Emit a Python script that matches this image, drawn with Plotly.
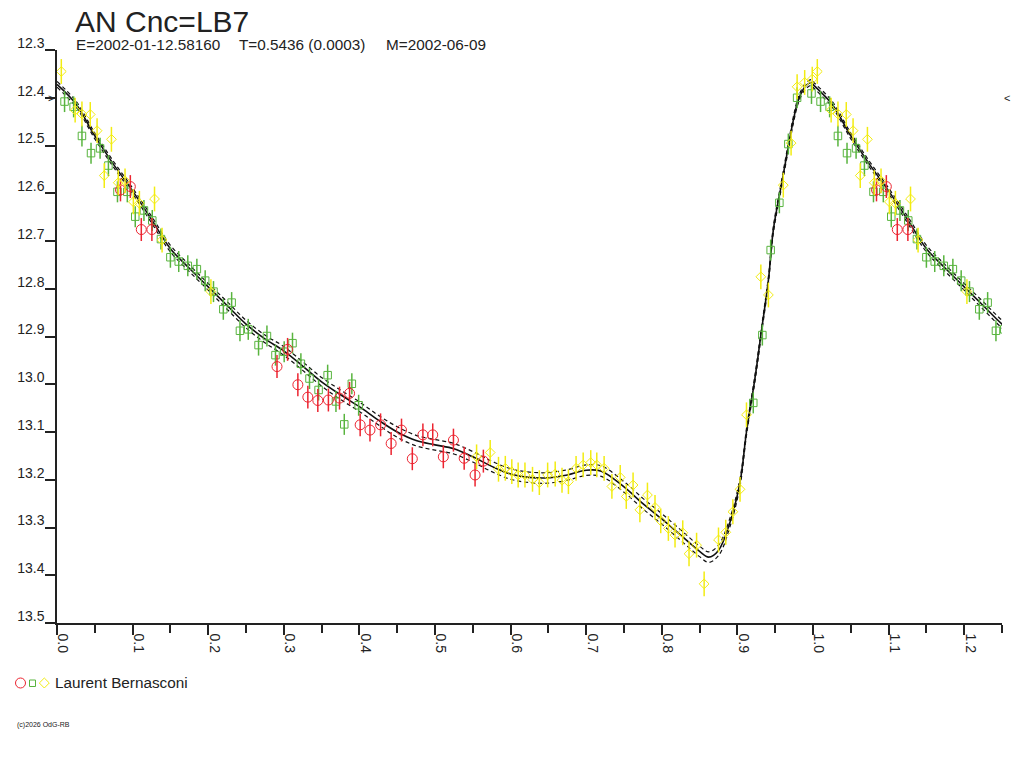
import plotly.graph_objects as go

red_phase = [0.084, 0.097, 0.1115, 0.1255, 0.291, 0.305, 0.3186, 0.3318, 0.345, 0.359,
             0.3737, 0.387, 0.401, 0.414, 0.428, 0.442, 0.4557, 0.470, 0.484, 0.497,
             0.511, 0.5244, 0.5386, 0.553, 0.564]
red_mag = [12.593, 12.586, 12.676, 12.676, 12.963, 12.927, 13.001, 13.027, 13.034, 13.033,
           13.029, 13.019, 13.085, 13.096, 13.085, 13.124, 13.096, 13.156, 13.106, 13.106,
           13.152, 13.117, 13.155, 13.190, 13.161]

green_phase = [0.010, 0.022, 0.033, 0.045, 0.057, 0.068, 0.080, 0.093, 0.1035, 0.115,
               0.126, 0.1375, 0.150, 0.161, 0.173, 0.185, 0.196, 0.207, 0.220, 0.231,
               0.242, 0.253, 0.2666, 0.2777, 0.289, 0.3005, 0.3115, 0.3226, 0.334, 0.346,
               0.358, 0.369, 0.380, 0.390, 0.399, 0.921, 0.933, 0.944, 0.9555, 0.9674,
               0.979, 0.998]
green_mag = [12.408, 12.419, 12.480, 12.516, 12.506, 12.542, 12.597, 12.597, 12.649, 12.636,
             12.657, 12.696, 12.734, 12.743, 12.752, 12.759, 12.783, 12.806, 12.843, 12.829,
             12.888, 12.885, 12.918, 12.899, 12.939, 12.932, 12.914, 12.957, 12.988, 13.012,
             12.981, 13.036, 13.084, 12.999, 13.044, 13.039, 12.897, 12.719, 12.620, 12.497,
             12.400, 12.391]

yellow_phase = [0.0057, 0.024, 0.033, 0.044, 0.053, 0.0625, 0.072, 0.081, 0.090, 0.101,
                0.109, 0.129, 0.139, 0.2036, 0.555, 0.573, 0.584, 0.593, 0.6016, 0.610,
                0.619, 0.629, 0.638, 0.649, 0.659, 0.668, 0.6765, 0.6866, 0.696, 0.706,
                0.714, 0.7237, 0.734, 0.745, 0.753, 0.762, 0.771, 0.781, 0.791, 0.7986,
                0.8087, 0.8175, 0.8277, 0.836, 0.846, 0.856, 0.875, 0.8846, 0.894, 0.9035,
                0.912, 0.931, 0.941, 0.9607, 0.971, 0.979, 0.989, 0.999]
yellow_mag = [12.345, 12.426, 12.434, 12.435, 12.469, 12.563, 12.487, 12.578, 12.574, 12.618,
              12.621, 12.612, 12.698, 12.806, 13.152, 13.143, 13.178, 13.176, 13.183, 13.190,
              13.190, 13.199, 13.206, 13.190, 13.188, 13.201, 13.204, 13.176, 13.169, 13.164,
              13.169, 13.176, 13.214, 13.195, 13.235, 13.211, 13.263, 13.232, 13.258, 13.286,
              13.302, 13.316, 13.311, 13.355, 13.337, 13.418, 13.326, 13.310, 13.267, 13.220,
              13.064, 12.775, 12.813, 12.583, 12.495, 12.377, 12.368, 12.361]

red_err, green_err, yellow_err = 0.024, 0.022, 0.026

# --- fitted light curve and its uncertainty ---
curve_phase = [0.0, 0.025, 0.05, 0.075, 0.1, 0.125, 0.15, 0.175, 0.2, 0.225, 0.25, 0.275,
               0.3, 0.325, 0.35, 0.375, 0.4, 0.425, 0.45, 0.475, 0.5, 0.525, 0.55, 0.575,
               0.6, 0.625, 0.65, 0.675, 0.7, 0.72, 0.75, 0.775, 0.8, 0.825, 0.85, 0.862,
               0.875, 0.89, 0.9035, 0.912, 0.923, 0.932, 0.941, 0.9475, 0.9586, 0.9674,
               0.974, 0.9806, 0.9894, 0.998]
curve_mag = [12.372, 12.413, 12.480, 12.540, 12.595, 12.655, 12.716, 12.757, 12.796, 12.835,
             12.874, 12.905, 12.930, 12.962, 12.995, 13.022, 13.047, 13.075, 13.100, 13.118,
             13.127, 13.135, 13.152, 13.172, 13.188, 13.195, 13.196, 13.190, 13.180, 13.182,
             13.215, 13.250, 13.282, 13.316, 13.350, 13.362, 13.348, 13.290, 13.205, 13.100,
             12.990, 12.886, 12.782, 12.677, 12.579, 12.502, 12.447, 12.405, 12.377, 12.368]
curve_sig = [0.006, 0.006, 0.006, 0.006, 0.006, 0.007, 0.007, 0.007, 0.007, 0.008, 0.008, 0.008,
             0.009, 0.009, 0.009, 0.010, 0.010, 0.010, 0.011, 0.011, 0.011, 0.011, 0.011, 0.011,
             0.011, 0.011, 0.011, 0.011, 0.011, 0.011, 0.011, 0.011, 0.011, 0.011, 0.011, 0.011,
             0.011, 0.009, 0.008, 0.007, 0.007, 0.007, 0.007, 0.007, 0.007, 0.007,
             0.007, 0.006, 0.006, 0.006]

max_mag = 12.40

x_ticks = [0.0, 0.1, 0.2, 0.3, 0.4, 0.5, 0.6, 0.7, 0.8, 0.9, 1.0, 1.1, 1.2]
y_ticks = [12.3, 12.4, 12.5, 12.6, 12.7, 12.8, 12.9, 13.0, 13.1, 13.2, 13.3, 13.4, 13.5]

title = "AN Cnc=LB7"
subtitle = ["E=2002-01-12.58160", "T=0.5436 (0.0003)", "M=2002-06-09"]
observer = "Laurent Bernasconi"

RED, GREEN, YELLOW = "#ec2430", "#58b43e", "#f2ec12"
INK = "#222222"
FONT = "Liberation Sans, Arial, sans-serif"

# the page puts the figure 8px in from the top-left corner
OFF = 8
W, H = 1016, 760
L, R, T, B = 49, 22, 42, 145


def px(x, y):
    # window pixel position -> paper coords
    return (x - OFF - L) / (W - L - R), (H - B - (y - OFF)) / (H - T - B)


def fold(ph, vals, upto=0.3):
    # repeat the first part of the cycle after phase 1
    xs = list(ph) + [p + 1 for p in ph if p <= upto]
    ys = list(vals) + [v for p, v in zip(ph, vals) if p <= upto]
    return xs, ys


fig = go.Figure()

cx, cy = fold(curve_phase, curve_mag)
_, cs = fold(curve_phase, curve_sig)
for off, dash, w in [(-1, "4px,3px", 1.2), (1, "4px,3px", 1.2), (0, "solid", 1.6)]:
    fig.add_trace(go.Scatter(
        x=cx, y=[m + off * s for m, s in zip(cy, cs)], mode="lines",
        line=dict(color="#111111", width=w, dash=dash, shape="spline", smoothing=1.0),
        hoverinfo="skip", showlegend=False))

for ph, mg, err, col, sym, size in [
        (green_phase, green_mag, green_err, GREEN, "square-open", 7.5),
        (red_phase, red_mag, red_err, RED, "circle-open", 10),
        (yellow_phase, yellow_mag, yellow_err, YELLOW, "diamond-open", 7.5)]:
    xs, ys = fold(ph, mg)
    fig.add_trace(go.Scatter(
        x=xs, y=ys, mode="markers",
        marker=dict(symbol=sym, size=size, color=col, line=dict(color=col, width=1)),
        error_y=dict(type="constant", value=err, color=col, thickness=1.5, width=0),
        showlegend=False))

axis_common = dict(showgrid=False, zeroline=False, showline=True, linecolor=INK, linewidth=1.5,
                   ticks="outside", tickcolor=INK, tickwidth=1.5, ticklen=10, mirror=False,
                   automargin=False,
                   tickfont=dict(family=FONT, size=14, color=INK), tickformat=".1f")

fig.update_xaxes(range=[0, 1.25], tickvals=x_ticks, tickangle=90, ticklabelshift=6,
                 ticklabelstandoff=-4,
                 minor=dict(dtick=0.05, ticks="outside", ticklen=8, tickcolor=INK, tickwidth=1.5),
                 **axis_common)
fig.update_yaxes(range=[13.5, 12.3], tickvals=y_ticks, ticklabelshift=7, ticklabelstandoff=-2,
                 **axis_common)

ann = []
x0, y0 = px(73, 21)
ann.append(dict(text=title, x=x0, y=y0, xanchor="left", yanchor="middle",
                font=dict(family=FONT, size=30, color=INK)))
for txt, xp in zip(subtitle, [74, 237, 384]):
    xa, ya = px(xp, 44)
    ann.append(dict(text=txt, x=xa, y=ya, xanchor="left", yanchor="middle",
                    font=dict(family=FONT, size=15.3, color=INK)))
xa, ya = px(53, 683)
ann.append(dict(text=observer, x=xa, y=ya, xanchor="left", yanchor="middle",
                font=dict(family=FONT, size=15.3, color=INK)))
xa, ya = px(15, 725)
ann.append(dict(text="(c)2026 OdG-RB", x=xa, y=ya, xanchor="left", yanchor="middle",
                font=dict(family=FONT, size=7, color=INK)))
# max-light markers on both sides
for txt, xp in [(">", 51), ("<", 1007)]:
    xa, _ = px(xp, 0)
    ann.append(dict(text=txt, x=xa, y=max_mag, yref="y", xanchor="center", yanchor="middle",
                    font=dict(family=FONT, size=11, color=INK)))
for a in ann:
    a.setdefault("xref", "paper")
    a.setdefault("yref", "paper")
    a["showarrow"] = False

# legend symbols
shapes = []
ax0, ay0 = px(15.5, 678)
ax1, ay1 = px(25.5, 688)
shapes.append(dict(type="circle", x0=ax0, y0=ay0, x1=ax1, y1=ay1, line=dict(color=RED, width=1)))
ax0, ay0 = px(29.5, 680)
ax1, ay1 = px(35.5, 686.5)
shapes.append(dict(type="rect", x0=ax0, y0=ay0, x1=ax1, y1=ay1, line=dict(color=GREEN, width=1)))
pts = [px(44.3, 678), px(49.3, 683), px(44.3, 688), px(39.3, 683)]
path = "M " + " L ".join(f"{a:.5f},{b:.5f}" for a, b in pts) + " Z"
shapes.append(dict(type="path", path=path, line=dict(color=YELLOW, width=1)))
for s in shapes:
    s["xref"] = "paper"
    s["yref"] = "paper"

fig.update_layout(width=W, height=H, margin=dict(l=L, r=R, t=T, b=B),
                  paper_bgcolor="white", plot_bgcolor="white",
                  annotations=ann, shapes=shapes, showlegend=False)

fig.write_html("out.html")
